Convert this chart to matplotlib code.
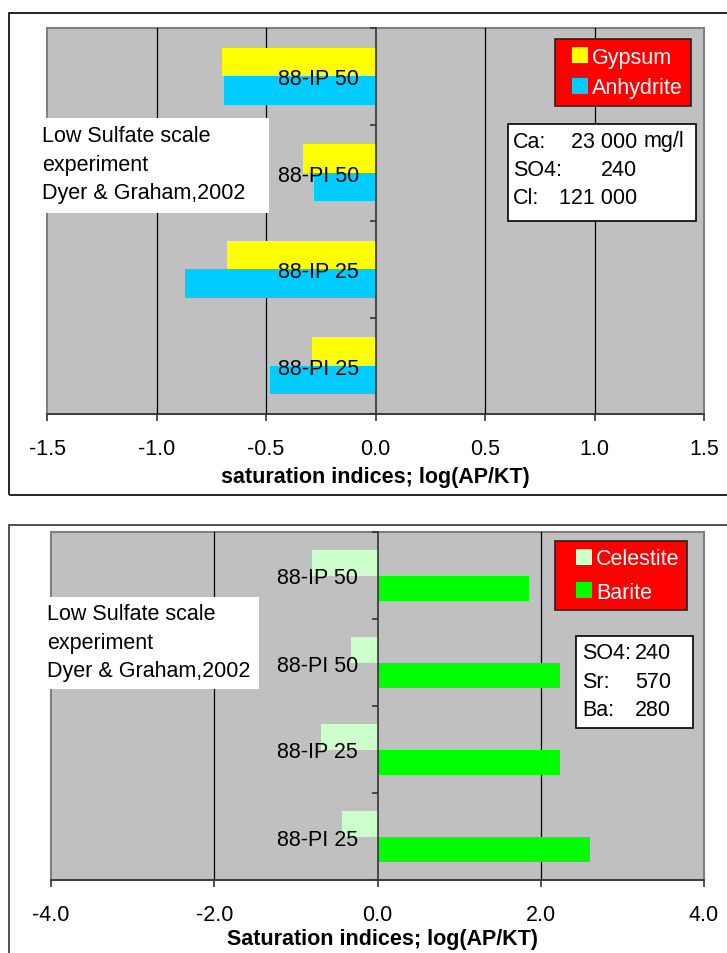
import matplotlib.pyplot as plt
from matplotlib.patches import Rectangle
from matplotlib.lines import Line2D
import numpy as np

plt.rcParams['font.family'] = ['Liberation Sans', 'DejaVu Sans']

categories = ['88-IP 50', '88-PI 50', '88-IP 25', '88-PI 25']

# sulfate minerals (top chart)
gypsum = [-0.70, -0.33, -0.68, -0.29]
anhydrite = [-0.69, -0.28, -0.87, -0.48]

# Sr / Ba minerals (bottom chart)
celestite = [-0.80, -0.32, -0.69, -0.43]
barite = [1.86, 2.23, 2.24, 2.60]

top_ticks = [-1.5, -1.0, -0.5, 0.0, 0.5, 1.0, 1.5]
bottom_ticks = [-4.0, -2.0, 0.0, 2.0, 4.0]

note_lines = ['Low Sulfate scale', 'experiment', 'Dyer & Graham,2002']
top_info_names = ['Ca:', 'SO4:', 'Cl:']
top_info_values = ['23 000', '240', '121 000']
bottom_info_names = ['SO4:', 'Sr:', 'Ba:']
bottom_info_values = ['240', '570', '280']

W, H = 727, 954
FS = 15.5

fig = plt.figure(figsize=(W / 100, H / 100), dpi=100)


def fx(x):
    return x / W


def fy(y):
    return 1 - y / H


def add_box(x0, y0, x1, y1, **kw):
    fig.add_artist(Rectangle((fx(x0), fy(y1)), fx(x1) - fx(x0), fy(y0) - fy(y1),
                             transform=fig.transFigure, **kw))


def bar_panel(box, vals1, vals2, names, colors, ticks, xlabel, label_y, label_x, ypad, legend_corner, leg_kw):
    left, top, right, bottom = box
    ax = fig.add_axes([fx(left), fy(bottom), fx(right) - fx(left), fy(top) - fy(bottom)])
    ax.set_facecolor('#C0C0C0')

    y = np.arange(len(categories))
    h = 0.295
    ax.barh(y - h / 2, vals1, height=h, color=colors[0], zorder=1)
    ax.barh(y + h / 2, vals2, height=h, color=colors[1], zorder=1)

    ax.set_xlim(ticks[0], ticks[-1])
    ax.set_ylim(len(categories) - 0.5, -0.5)

    # inner gridlines
    for t in ticks[1:-1]:
        if t != 0:
            ax.axvline(t, color='black', lw=0.9, zorder=0.8)

    # plot area border
    ax.add_patch(Rectangle((0, 0), 1, 1, transform=ax.transAxes, fill=False,
                           edgecolor='#808080', lw=1.5, clip_on=False, zorder=0.7))

    ax.spines['top'].set_visible(False)
    ax.spines['right'].set_visible(False)
    ax.spines['left'].set_position(('data', 0))
    ax.spines['left'].set_color('#333333')
    ax.spines['bottom'].set_color('#333333')
    ax.spines['left'].set_linewidth(1.2)
    ax.spines['bottom'].set_linewidth(1.2)

    ax.set_xticks(ticks, labels=[f'{t:.1f}' for t in ticks])
    ax.tick_params(axis='x', direction='out', length=5, width=1.2, color='#333333',
                   labelsize=FS, pad=12)

    ax.set_yticks(y, labels=categories)
    ax.set_yticks(np.arange(-0.5, len(categories)), minor=True)
    ax.tick_params(axis='y', which='major', length=0, pad=ypad, labelsize=FS)
    ax.tick_params(axis='y', which='minor', direction='out', length=4.5, width=1.2, color='#333333')
    ax.xaxis.set_zorder(3)
    ax.yaxis.set_zorder(3)

    ax.set_xlabel(xlabel, fontsize=FS, fontweight='bold')
    ax.xaxis.set_label_coords(label_x, label_y)
    ax.xaxis.label.set_va('center')

    # square legend keys (16 px)
    handles = [Line2D([], [], marker='s', markersize=11.5, markeredgewidth=0,
                      color=c, linestyle='none') for c in colors]
    leg = ax.legend(handles, names, loc='upper left',
                    bbox_to_anchor=(fx(legend_corner[0]), fy(legend_corner[1])),
                    bbox_transform=fig.transFigure, borderaxespad=0, fontsize=FS,
                    facecolor='#FF0000', edgecolor='#222222', framealpha=1, fancybox=False,
                    labelcolor='white', **leg_kw)
    leg.get_frame().set_linewidth(1.2)
    return ax


# ---- top chart ----
add_box(9, 14, 760, 496, facecolor='none', edgecolor='black', lw=1.2)
bar_panel((47, 29, 704, 415), gypsum, anhydrite, ['Gypsum', 'Anhydrite'],
          ['#FFFF00', '#00CCFF'], top_ticks, 'saturation indices; log(AP/KT)',
          -0.161, 0.5, 12, (555, 40),
          dict(borderpad=0.37, handlelength=1.58, handletextpad=-0.23, labelspacing=0.44))

add_box(36, 119, 269, 214, facecolor='white', edgecolor='none')
for i, line in enumerate(note_lines):
    fig.text(fx(42), fy(137 + 28 * i), line, fontsize=FS, va='center')

add_box(508, 125, 696, 222, facecolor='white', edgecolor='black', lw=1.2)
for i, (name, val) in enumerate(zip(top_info_names, top_info_values)):
    yy = fy(142 + 28.5 * i)
    fig.text(fx(513), yy, name, fontsize=FS, va='center')
    fig.text(fx(637), yy, val, fontsize=FS, va='center', ha='right')
fig.text(fx(644), fy(142), 'mg/l', fontsize=FS, va='center')

# ---- bottom chart ----
add_box(9, 526, 760, 990, facecolor='none', edgecolor='#333333', lw=1.2)
bar_panel((51, 533, 704, 881), celestite, barite, ['Celestite', 'Barite'],
          ['#CCFFCC', '#00FF00'], bottom_ticks, 'Saturation indices; log(AP/KT)',
          -0.167, 0.508, 14, (555, 542),
          dict(borderpad=0.34, handlelength=2.02, handletextpad=-0.45, labelspacing=0.58))

add_box(40, 598, 259, 690, facecolor='white', edgecolor='none')
for i, line in enumerate(note_lines):
    fig.text(fx(47), fy(615 + 28.5 * i), line, fontsize=FS, va='center')

add_box(576, 637, 693, 729, facecolor='white', edgecolor='black', lw=1.2)
for i, (name, val) in enumerate(zip(bottom_info_names, bottom_info_values)):
    yy = fy(654 + 28.5 * i)
    fig.text(fx(582), yy, name, fontsize=FS, va='center')
    fig.text(fx(671), yy, val, fontsize=FS, va='center', ha='right')

plt.savefig('out.png', dpi=100)
plt.close()
